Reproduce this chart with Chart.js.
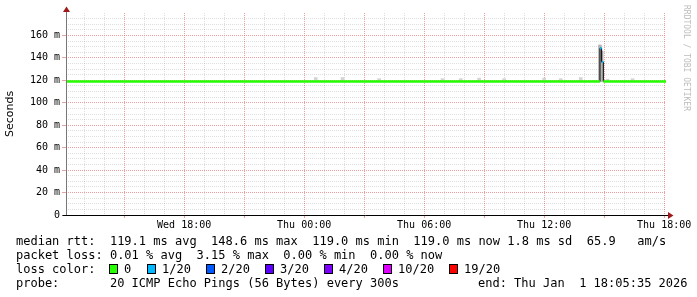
<!DOCTYPE html>
<html>
<head>
<meta charset="utf-8">
<script src="https://cdn.jsdelivr.net/npm/chart.js@4/dist/chart.umd.min.js"></script>
<style>
  body { margin: 0; background: #fff; }
  #wrap { position: relative; width: 697px; height: 297px; overflow: hidden; }
  #chart { position: absolute; left: 0; top: 0; }
  .leg { position: absolute; font: 12px "DejaVu Sans Mono", monospace; line-height: 14px; white-space: pre; color: #000; }
  .sw { position: absolute; top: 264px; width: 7px; height: 8px; border: 1px solid #000; }
</style>
</head>
<body>
<div id="wrap">
  <canvas id="chart" width="697" height="297"></canvas>
  <div class="leg" style="left:16px;top:234px">median rtt:  119.1 ms avg  148.6 ms max  119.0 ms min  119.0 ms now 1.8 ms sd  65.9   am/s</div>
  <div class="leg" style="left:16px;top:248px">packet loss: 0.01 % avg  3.15 % max  0.00 % min  0.00 % now</div>
  <div class="leg" style="left:16px;top:262px">loss color:</div>
  <div id="lossLegend"></div>
  <div class="leg" style="left:16px;top:276px">probe:       20 ICMP Echo Pings (56 Bytes) every 300s</div>
  <div class="leg" style="left:478px;top:276px">end: Thu Jan  1 18:05:35 2026</div>
</div>
<script>
// time axis in hours since Wed 00:00
const timeStart = 12.093;
const timeEnd = 42.093;
const xTickHours = [18, 24, 30, 36, 42];
const xTickLabels = ['Wed 18:00', 'Thu 00:00', 'Thu 06:00', 'Thu 12:00', 'Thu 18:00'];
const yLabelValues = [0, 20, 40, 60, 80, 100, 120, 140, 160];

// median rtt (ms), step starts
const medianHours = [12.093, 38.79, 38.875, 38.96, 42.093];
const medianMs = [119.0, 148.6, 136.3, 119.0, 119.0];
const medianLoss = [0, 1, 1, 0, 0];

// smoke (ping spread)
const smokeHours = [24.58, 25.92, 27.75, 30.92, 31.83, 32.75, 34.0, 36.0, 36.83, 37.83, 38.79, 38.875, 39.17, 40.42];
const smokeLow = [119, 119, 119, 119, 119, 119, 119, 119, 119, 119, 119, 119, 119, 119];
const smokeHigh = [122.5, 122.5, 121.5, 121.5, 121.5, 122, 121.5, 122, 121.5, 122.5, 151.5, 146, 121, 121.5];

const lossLabels = ['0', '1/20', '2/20', '3/20', '4/20', '10/20', '19/20'];
const lossColors = ['#26ff00', '#00b8ff', '#0059ff', '#5e00ff', '#7e00ff', '#dd00ff', '#ff0000'];
const swatchX = [109, 147, 206, 265, 324, 383, 449];

const legendBox = document.getElementById('lossLegend');
lossLabels.forEach(function(lab, i) {
    let sw = document.createElement('div');
    sw.className = 'sw';
    sw.style.left = swatchX[i] + 'px';
    sw.style.background = lossColors[i];
    legendBox.appendChild(sw);
    let t = document.createElement('div');
    t.className = 'leg';
    t.style.left = (swatchX[i] + 15) + 'px';
    t.style.top = '262px';
    t.textContent = lab;
    legendBox.appendChild(t);
});

const majorRed = 'rgba(230,120,120,0.7)';
const minorGray = 'rgba(0,0,0,0.13)';

let datasets = [];

// colored median segments
for (let i = 0; i < medianHours.length - 1; i++) {
    datasets.push({
        type: 'line',
        data: [{x: medianHours[i], y: medianMs[i]}, {x: medianHours[i + 1], y: medianMs[i]}],
        borderColor: lossColors[medianLoss[i]],
        borderWidth: medianLoss[i] === 0 ? 2.5 : 2,
        pointRadius: 0,
        order: 0
    });
}

// thin black step line for transitions
datasets.push({
    type: 'line',
    data: medianHours.map(function(h, i) { return {x: h, y: medianMs[i]}; }),
    stepped: 'before',
    borderColor: '#000',
    borderWidth: 1,
    pointRadius: 0,
    order: 1
});

// smoke bars
datasets.push({
    type: 'bar',
    data: smokeHours.map(function(h, i) { return {x: h, y: [smokeLow[i], smokeHigh[i]]}; }),
    backgroundColor: smokeHours.map(function(h, i) { return smokeHigh[i] > 130 ? '#b4b4b4' : '#d4d4d4'; }),
    barThickness: 3,
    grouped: false,
    borderWidth: 0,
    order: 2
});

const decor = {
    id: 'decor',
    afterDraw(chart) {
        const ctx = chart.ctx;
        const a = chart.chartArea;
        const lx = Math.round(a.left) + 0.5;
        const by = Math.round(a.bottom) + 0.5;
        ctx.save();
        ctx.lineWidth = 1;
        ctx.strokeStyle = '#777';
        ctx.beginPath();
        ctx.moveTo(lx, 10);
        ctx.lineTo(lx, by);
        ctx.stroke();
        ctx.strokeStyle = '#000';
        ctx.beginPath();
        ctx.moveTo(lx - 4, by);
        ctx.lineTo(a.right + 3, by);
        ctx.stroke();
        ctx.fillStyle = '#a01818';
        ctx.beginPath();
        ctx.moveTo(lx - 3.5, 12);
        ctx.lineTo(lx + 3.5, 12);
        ctx.lineTo(lx, 6.5);
        ctx.closePath();
        ctx.fill();
        ctx.beginPath();
        ctx.moveTo(a.right + 2, by - 3.5);
        ctx.lineTo(a.right + 2, by + 3.5);
        ctx.lineTo(a.right + 7.5, by);
        ctx.closePath();
        ctx.fill();
        ctx.translate(686.5, 5);
        ctx.rotate(Math.PI / 2);
        ctx.fillStyle = '#bdbdbd';
        ctx.font = '8px "DejaVu Sans Mono"';
        ctx.textBaseline = 'middle';
        ctx.textAlign = 'left';
        ctx.fillText('RRDTOOL / TOBI OETIKER', 0, 0);
        ctx.restore();
    }
};

new Chart(document.getElementById('chart'), {
    type: 'line',
    data: { datasets: datasets },
    plugins: [decor],
    options: {
        responsive: false,
        animation: false,
        layout: { padding: { left: 0, top: 13, right: 31, bottom: 0 } },
        plugins: { legend: { display: false }, tooltip: { enabled: false } },
        scales: {
            x: {
                type: 'linear',
                min: timeStart,
                max: timeEnd,
                offset: false,
                afterFit: function(s) { s.height = 82; },
                afterBuildTicks: function(s) {
                    let t = [];
                    for (let h = 13; h <= 42; h++) t.push({value: h});
                    s.ticks = t;
                },
                grid: {
                    offset: false,
                    tickLength: 3,
                    color: function(c) { return c.tick && c.tick.value % 3 === 0 ? majorRed : minorGray; },
                    tickColor: function(c) { return c.tick && c.tick.value % 3 === 0 ? majorRed : 'rgba(0,0,0,0)'; }
                },
                border: { display: false, dash: [1, 1] },
                ticks: {
                    autoSkip: false,
                    maxRotation: 0,
                    padding: 1,
                    color: '#000',
                    font: { family: 'DejaVu Sans Mono', size: 10 },
                    callback: function(v) {
                        let i = xTickHours.indexOf(v);
                        return i >= 0 ? xTickLabels[i] : '';
                    }
                }
            },
            y: {
                type: 'linear',
                min: 0,
                max: 180,
                afterFit: function(s) { s.width = 66; },
                afterBuildTicks: function(s) {
                    let t = [];
                    for (let v = 0; v < 180; v += 5) t.push({value: v});
                    s.ticks = t;
                },
                grid: {
                    tickLength: 4,
                    color: function(c) { return c.tick && c.tick.value % 20 === 0 ? majorRed : minorGray; },
                    tickColor: function(c) { return c.tick && c.tick.value % 20 === 0 ? majorRed : 'rgba(0,0,0,0)'; }
                },
                border: { display: false, dash: [1, 1] },
                title: {
                    display: true,
                    text: 'Seconds',
                    color: '#000',
                    padding: { top: 4, bottom: 0 },
                    font: { family: 'DejaVu Sans', size: 11 }
                },
                ticks: {
                    autoSkip: false,
                    padding: 2,
                    color: '#000',
                    font: { family: 'DejaVu Sans Mono', size: 10 },
                    callback: function(v) {
                        if (yLabelValues.indexOf(v) < 0) return '';
                        return v === 0 ? '0' : v + ' m';
                    }
                }
            }
        }
    }
});
</script>
</body>
</html>
